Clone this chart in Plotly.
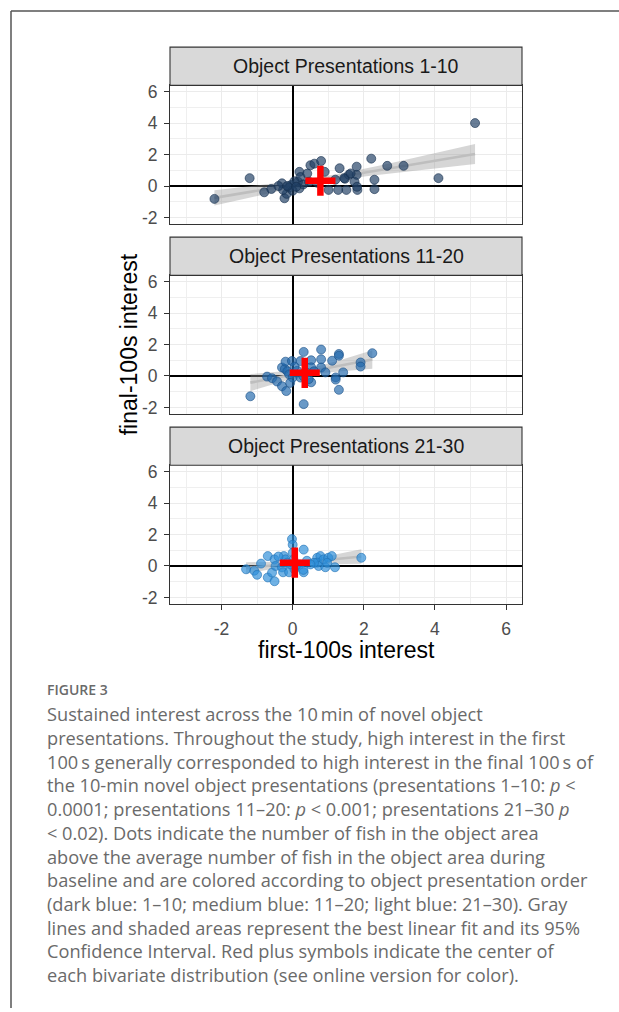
import numpy as np
import plotly.graph_objects as go

# ---------------- data ----------------
panel_titles = ["Object Presentations 1-10", "Object Presentations 11-20", "Object Presentations 21-30"]

p1_x = [-2.20, -1.21, -0.80, -0.60, -0.30, -0.23, -0.17, -0.27, -0.05, 0.15, 0.19, 0.19, 0.22, 0.41,
        0.50, 0.61, 0.80, 0.46, 1.01, 1.28, 1.32, 1.51, 1.47, 1.58, 1.74, 1.80, 1.80, 1.82, 2.21,
        2.30, 2.30, 2.66, 3.12, 4.10, 5.13, 1.81, 1.45, 1.63, -0.10, 0.00, -0.40, 0.05, 0.30, 0.10,
        0.90, 0.70, 1.20, -0.15]
p1_y = [-0.82, 0.50, -0.40, -0.19, 0.17, -0.78, -0.50, -0.25, 0.06, 0.27, 0.90, -0.15, 0.57, 0.79,
        1.32, 1.42, 1.59, 0.27, -0.25, -0.25, 1.13, -0.25, 0.46, 0.71, 0.27, 0.71, 1.23, -0.25, 1.74,
        0.40, -0.20, 1.28, 1.28, 0.50, 4.00, -0.05, 0.50, 0.80, -0.10, -0.30, 0.00, 0.30, 0.10, -0.05,
        0.90, 0.20, 0.40, 0.00]

p2_x = [-1.19, -0.72, -0.58, -0.44, -0.30, -0.18, -0.30, -0.22, -0.20, -0.15, -0.10, -0.02, 0.00,
        -0.07, 0.22, 0.31, 0.13, 0.22, 0.31, 0.52, 0.52, 0.52, 0.80, 0.80, 0.80, 0.92, 1.11, 1.21,
        1.21, 1.30, 1.30, 1.30, 1.42, 1.91, 1.91, 2.24, 0.40, 0.30, 0.60, 0.05, 0.45]
p2_y = [-1.29, -0.04, -0.14, -0.35, -0.65, -0.96, 0.54, 0.45, 0.91, 0.30, 0.10, 0.95, -0.10,
        -0.44, 0.95, 1.53, 0.33, -0.10, -1.79, 1.00, 0.55, -0.40, 1.68, 1.06, 0.54, 0.23, 0.97, -0.09,
        -0.23, 1.40, 1.29, -0.88, 0.23, 0.86, 0.60, 1.45, 0.20, 0.00, 0.30, 0.60, -0.20]

p3_x = [-1.31, -1.08, -1.00, -0.89, -0.70, -0.70, -0.58, -0.51, -0.51, -0.48, -0.30, -0.27, -0.25,
        -0.20, -0.15, -0.10, -0.02, 0.00, 0.00, 0.02, 0.10, 0.05, 0.31, 0.31, 0.40, 0.69, 0.78, 0.69,
        0.73, 0.87, 0.92, 1.00, 1.10, 1.19, 0.97, 1.93, 0.60, 0.50, 0.20, -0.05, 0.30, -0.40]
p3_y = [-0.21, -0.30, -0.56, 0.15, 0.63, -0.73, -0.42, 0.42, -0.97, 0.00, -0.09, -0.40, 0.63,
        0.42, 0.21, -0.40, 1.71, 1.35, 0.83, 0.42, 0.00, -0.20, 1.04, -0.40, 0.33, 0.52, 0.63, 0.21,
        0.00, 0.42, -0.08, 0.52, 0.63, -0.08, 0.20, 0.52, 0.20, 0.10, 0.10, 0.10, -0.25, 0.60]

center_x = [0.78, 0.34, 0.06]
center_y = [0.33, 0.20, 0.21]

x_ticks = [-2, 0, 2, 4, 6]
y_ticks = [-2, 0, 2, 4, 6]

caption_label = "FIGURE 3"
caption_lines = [
    "Sustained interest across the 10\u2009min of novel object",
    "presentations. Throughout the study, high interest in the first",
    "100\u2009s generally corresponded to high interest in the final 100\u2009s of",
    "the 10-min novel object presentations (presentations 1\u201310: <i>p</i> &lt;",
    "0.0001; presentations 11\u201320: <i>p</i> &lt; 0.001; presentations 21\u201330 <i>p</i>",
    "&lt; 0.02). Dots indicate the number of fish in the object area",
    "above the average number of fish in the object area during",
    "baseline and are colored according to object presentation order",
    "(dark blue: 1\u201310; medium blue: 11\u201320; light blue: 21\u201330). Gray",
    "lines and shaded areas represent the best linear fit and its 95%",
    "Confidence Interval. Red plus symbols indicate the center of",
    "each bivariate distribution (see online version for color).",
]

# ---------------- styling ----------------
W, H = 619, 1012
point_fill = ["rgba(32,64,100,0.68)", "rgba(34,104,172,0.68)", "rgba(44,142,216,0.68)"]
point_edge = ["rgba(20,45,75,0.75)", "rgba(24,78,132,0.75)", "rgba(32,112,180,0.75)"]
tick_font = dict(family="Liberation Sans, Arial, sans-serif", size=17.5, color="#4D4D4D")

def px_x(p):
    return p / W

def px_y(p):
    return 1 - p / H

x_dom = [px_x(170), px_x(522)]
panel_px = [(82, 221.5), (273.5, 413), (465, 604.5)]
strip_h = 38.5

def lm_band(x, y, n=80):
    x = np.asarray(x, float)
    y = np.asarray(y, float)
    nn = len(x)
    xm = x.mean()
    sxx = ((x - xm) ** 2).sum()
    b1 = ((x - xm) * (y - y.mean())).sum() / sxx
    b0 = y.mean() - b1 * xm
    resid = y - (b0 + b1 * x)
    s = np.sqrt((resid ** 2).sum() / (nn - 2))
    df = nn - 2
    z = 1.959964
    t = z + (z ** 3 + z) / (4 * df) + (5 * z ** 5 + 16 * z ** 3 + 3 * z) / (96 * df ** 2)
    xs = np.linspace(x.min(), x.max(), n)
    fit = b0 + b1 * xs
    se = s * np.sqrt(1 / nn + (xs - xm) ** 2 / sxx)
    return xs, fit, fit - t * se, fit + t * se

fig = go.Figure()
xs_all = [p1_x, p2_x, p3_x]
ys_all = [p1_y, p2_y, p3_y]

for i in range(3):
    xa = "x" if i == 0 else f"x{i+1}"
    ya = "y" if i == 0 else f"y{i+1}"
    xs, fit, lo, hi = lm_band(xs_all[i], ys_all[i])
    fig.add_trace(go.Scatter(
        x=np.concatenate([xs, xs[::-1]]), y=np.concatenate([hi, lo[::-1]]),
        fill="toself", fillcolor="rgba(153,153,153,0.40)", line=dict(width=0),
        mode="lines", hoverinfo="skip", showlegend=False, xaxis=xa, yaxis=ya))
    fig.add_trace(go.Scatter(
        x=xs, y=fit, mode="lines", line=dict(color="#BEBEBE", width=2.6),
        hoverinfo="skip", showlegend=False, xaxis=xa, yaxis=ya))
    fig.add_trace(go.Scatter(
        x=xs_all[i], y=ys_all[i], mode="markers",
        marker=dict(size=9, color=point_fill[i], line=dict(color=point_edge[i], width=0.8)),
        showlegend=False, xaxis=xa, yaxis=ya))
    fig.add_trace(go.Scatter(
        x=[center_x[i]], y=[center_y[i]], mode="markers",
        marker=dict(symbol="cross-thin", size=21.5, color="#FF0000",
                    line=dict(color="#FF0000", width=6.5)),
        showlegend=False, xaxis=xa, yaxis=ya))

axis_common = dict(
    showgrid=True, gridcolor="#EBEBEB", gridwidth=1.4,
    zeroline=True, zerolinecolor="#000000", zerolinewidth=1.8,
    showline=True, linecolor="#333333", linewidth=1.1, mirror=True,
    tickcolor="#333333", ticklen=5, tickwidth=1.1, tickangle=0,
    tickfont=tick_font,
    minor=dict(dtick=1, showgrid=True, gridcolor="#EFEFEF", gridwidth=0.8, ticks=""),
)

layout_axes = {}
for i in range(3):
    top, bot = panel_px[i]
    sx = "xaxis" if i == 0 else f"xaxis{i+1}"
    sy = "yaxis" if i == 0 else f"yaxis{i+1}"
    ya = "y" if i == 0 else f"y{i+1}"
    xa = "x" if i == 0 else f"x{i+1}"
    last = (i == 2)
    layout_axes[sx] = dict(
        axis_common, domain=x_dom, range=[-3.45, 6.45], anchor=ya,
        tickvals=x_ticks, ticktext=[str(v) if v >= 0 else "-" + str(-v) for v in x_ticks],
        ticks="outside" if last else "", showticklabels=last, ticklabelstandoff=4)
    layout_axes[sy] = dict(
        axis_common, domain=[px_y(bot), px_y(top)], range=[-2.4, 6.4], anchor=xa,
        tickvals=y_ticks, ticktext=[str(v) if v >= 0 else "-" + str(-v) for v in y_ticks],
        ticks="outside", showticklabels=True, ticklabelstandoff=3)

shapes = []
annotations = []
for i in range(3):
    top, bot = panel_px[i]
    shapes.append(dict(type="rect", xref="paper", yref="paper",
                       x0=x_dom[0], x1=x_dom[1], y0=px_y(top), y1=px_y(top - strip_h),
                       fillcolor="#D9D9D9", line=dict(color="#333333", width=1.1), layer="above"))
    annotations.append(dict(text=panel_titles[i], xref="paper", yref="paper",
                            x=(x_dom[0] + x_dom[1]) / 2, y=px_y(top - strip_h / 2),
                            xanchor="center", yanchor="middle", showarrow=False,
                            font=dict(family="Liberation Sans, Arial, sans-serif", size=19.5, color="#1A1A1A")))

# frame lines
shapes.append(dict(type="line", xref="paper", yref="paper", x0=px_x(11), x1=1.0,
                   y0=px_y(7), y1=px_y(7), line=dict(color="#555555", width=1.5)))
shapes.append(dict(type="line", xref="paper", yref="paper", x0=px_x(11), x1=px_x(11),
                   y0=px_y(7), y1=0.0, line=dict(color="#555555", width=1.5)))

# axis titles
annotations.append(dict(text="first-100s interest", xref="paper", yref="paper",
                        x=(x_dom[0] + x_dom[1]) / 2, y=px_y(651), xanchor="center", yanchor="middle",
                        showarrow=False,
                        font=dict(family="Liberation Sans, Arial, sans-serif", size=23, color="#000000")))
annotations.append(dict(text="final-100s interest", xref="paper", yref="paper",
                        x=px_x(129), y=px_y(343), xanchor="center", yanchor="middle", textangle=-90,
                        showarrow=False,
                        font=dict(family="Liberation Sans, Arial, sans-serif", size=23, color="#000000")))

# caption
annotations.append(dict(text=caption_label, xref="paper", yref="paper", x=px_x(45), y=px_y(691),
                        xanchor="left", yanchor="middle", showarrow=False,
                        font=dict(family="Open Sans, sans-serif", size=14, color="#6A6A6A", weight=600)))
for k, line in enumerate(caption_lines):
    annotations.append(dict(text=line, xref="paper", yref="paper", x=px_x(45), y=px_y(716 + 23.9 * k),
                            xanchor="left", yanchor="middle", showarrow=False,
                            font=dict(family="Open Sans, sans-serif", size=18.2, color="#6A6A6A")))

fig.update_layout(
    width=W, height=H, margin=dict(l=0, r=0, t=0, b=0),
    paper_bgcolor="white", plot_bgcolor="white",
    shapes=shapes, annotations=annotations, showlegend=False,
    **layout_axes)

fig.write_html("out.html", config={"displayModeBar": False},
               post_script="document.body.style.margin='0';")
